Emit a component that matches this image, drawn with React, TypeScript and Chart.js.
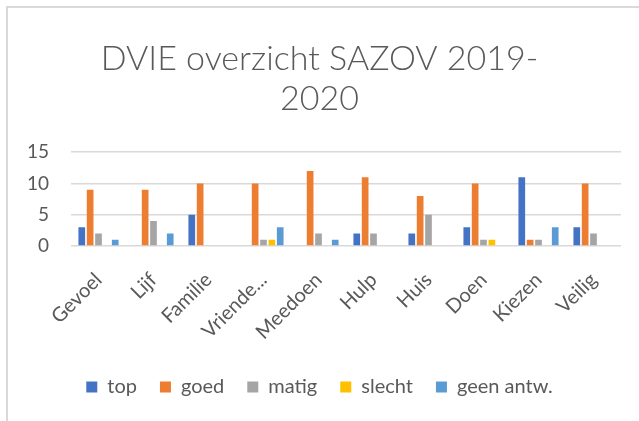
import { useEffect, useRef } from 'react';
import { Chart, registerables } from 'chart.js';

Chart.register(...registerables);

const titleLines = ['DVIE overzicht SAZOV 2019-', '2020'];
const categories = ['Gevoel', 'Lijf', 'Familie', 'Vriende...', 'Meedoen', 'Hulp', 'Huis', 'Doen', 'Kiezen', 'Veilig'];
const seriesNames = ['top', 'goed', 'matig', 'slecht', 'geen antw.'];
const topValues = [3, 0, 5, 0, 0, 2, 2, 3, 11, 3];
const goedValues = [9, 9, 10, 10, 12, 11, 8, 10, 1, 10];
const matigValues = [2, 4, 0, 1, 2, 2, 5, 1, 1, 2];
const slechtValues = [0, 0, 0, 1, 0, 0, 0, 1, 0, 0];
const geenValues = [1, 2, 0, 3, 1, 0, 0, 0, 3, 0];
const yTicks = [0, 5, 10, 15];
const seriesColors = ['#4472C4', '#ED7D31', '#A5A5A5', '#FFC000', '#5B9BD5'];

const FONT = 'Lato, "Liberation Sans", sans-serif';
const TEXT = '#595959';

export default function App() {
  const ref = useRef<HTMLCanvasElement>(null);
  useEffect(() => {
    const values = [topValues, goedValues, matigValues, slechtValues, geenValues];
    const chart = new Chart(ref.current!, {
      type: 'bar',
      data: {
        labels: categories,
        datasets: seriesNames.map((name, i) => ({
          label: name,
          data: values[i],
          backgroundColor: seriesColors[i],
          borderWidth: 0,
          categoryPercentage: 0.76,
          barPercentage: 0.8,
        })),
      },
      options: {
        responsive: false,
        animation: false,
        layout: { padding: { left: 18, right: 18, top: 0, bottom: 14 } },
        plugins: {
          title: {
            display: true,
            text: titleLines,
            color: TEXT,
            font: { family: FONT, size: 34, weight: 300, lineHeight: 1.18 },
            padding: { top: 39, bottom: 33 },
          },
          legend: {
            position: 'bottom',
            labels: {
              boxWidth: 11,
              boxHeight: 11,
              color: TEXT,
              font: { family: FONT, size: 20 },
              padding: 23,
            },
          },
          tooltip: { enabled: false },
        },
        scales: {
          x: {
            grid: { display: false },
            border: { display: false },
            ticks: {
              color: TEXT,
              font: { family: FONT, size: 20 },
              minRotation: 45,
              maxRotation: 45,
              autoSkip: false,
              padding: 14,
            },
            afterFit: (s: any) => {
              s.height = 108;
            },
          },
          y: {
            min: 0,
            max: 15,
            afterBuildTicks: (s: any) => {
              s.ticks = yTicks.map((v) => ({ value: v }));
            },
            ticks: { color: TEXT, font: { family: FONT, size: 19 }, padding: 22, autoSkip: false },
            grid: { color: '#d9d9d9', lineWidth: 1.5, drawTicks: false },
            border: { display: false },
            afterFit: (s: any) => {
              s.width = 53;
            },
          },
        },
      },
    } as any);
    return () => chart.destroy();
  }, []);

  return (
    <div style={{ position: 'fixed', left: 0, top: 0, width: 639, height: 421, overflow: 'hidden', background: '#fff' }}>
      <canvas ref={ref} width={639} height={421} style={{ position: 'absolute', left: 0, top: 0 }} />
      <div
        style={{
          position: 'absolute',
          left: 6,
          top: 6,
          width: 700,
          height: 500,
          border: '2px solid #d9d9d9',
          pointerEvents: 'none',
        }}
      />
    </div>
  );
}
